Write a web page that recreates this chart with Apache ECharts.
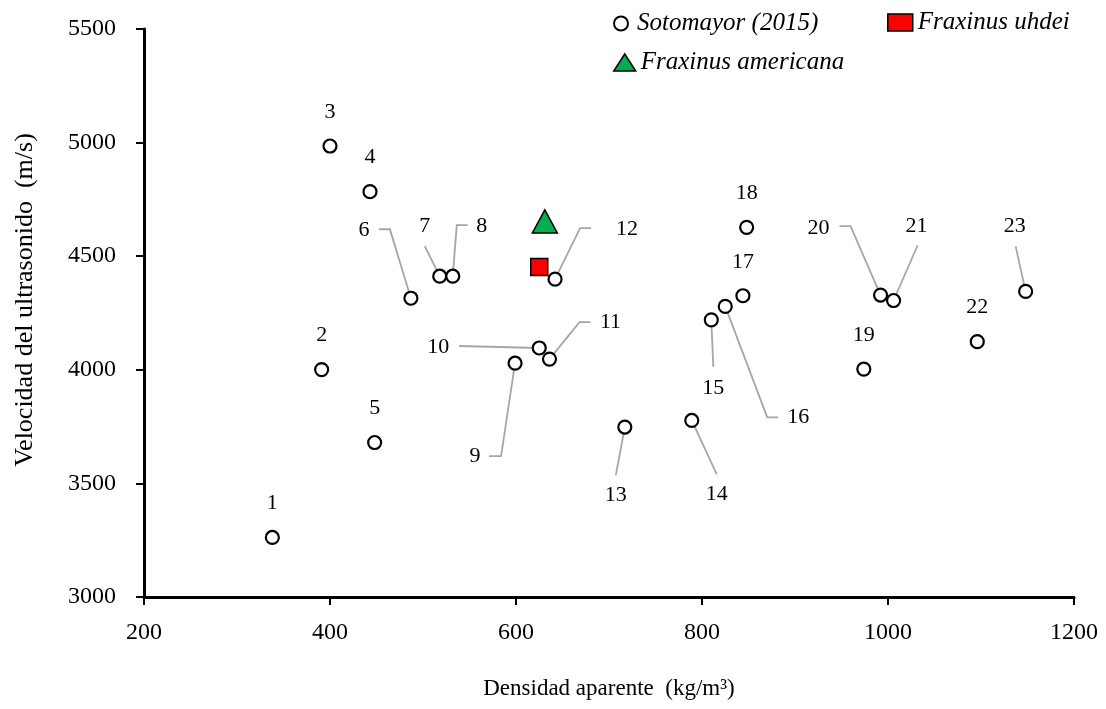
<!DOCTYPE html>
<html>
<head>
<meta charset="utf-8">
<style>
  html, body { margin: 0; padding: 0; background: #fff; }
  #chart { width: 1106px; height: 709px; }
</style>
<script src="https://cdn.jsdelivr.net/npm/echarts@6/dist/echarts.min.js"></script>
</head>
<body>
<div id="chart"></div>
<script>
// Datos
var pointLabels = ['1', '2', '3', '4', '5', '6', '7', '8', '9', '10', '11', '12',
  '13', '14', '15', '16', '17', '18', '19', '20', '21', '22', '23'];
var sotoDensity = [338, 391, 400, 443, 448, 487, 518, 532, 599, 625, 636, 642,
  717, 789, 810, 825, 844, 848, 974, 992, 1006, 1096, 1148];
var sotoVelocity = [3262, 4001, 4985, 4784, 3680, 4315, 4412, 4412, 4029, 4096, 4047, 4399,
  3748, 3777, 4220, 4279, 4326, 4627, 4003, 4329, 4305, 4124, 4345];
var uhdeiPoint = [625, 4452];
var americanaPoint = [631, 4653];

// Posición de las etiquetas (px, relativo al punto) y líneas guía
var labelPlacement = [
  { dx: 0, dy: -34 },
  { dx: 0, dy: -34 },
  { dx: 0, dy: -34 },
  { dx: 0, dy: -34 },
  { dx: 0, dy: -34 },
  { dx: -47, dy: -68, line: [[-32, -69], [-21, -69]] },
  { dx: -15, dy: -50, line: [[-15, -30]] },
  { dx: 29, dy: -50, line: [[15, -51], [4, -51]] },
  { dx: -40, dy: 93, line: [[-26, 93], [-14, 93]] },
  { dx: -101, dy: -1, line: [[-80, -2]] },
  { dx: 61, dy: -37, line: [[41, -37], [30, -37]] },
  { dx: 72, dy: -50, line: [[36, -51], [25, -51]] },
  { dx: -9, dy: 68, line: [[-9, 48]] },
  { dx: 25, dy: 74, line: [[25, 54]] },
  { dx: 2, dy: 68, line: [[2, 47]] },
  { dx: 73, dy: 111, line: [[53, 111], [42, 111]] },
  { dx: 0, dy: -34 },
  { dx: 0, dy: -34 },
  { dx: 0, dy: -34 },
  { dx: -62, dy: -67, line: [[-41, -69], [-30, -69]] },
  { dx: 23, dy: -74, line: [[24, -55]] },
  { dx: 0, dy: -34 },
  { dx: -11, dy: -65, line: [[-10, -45]] }
];

var serif = '"Liberation Serif", "DejaVu Serif", serif';
var guideColor = '#A6A6A6';

var chart = echarts.init(document.getElementById('chart'), null, { renderer: 'canvas' });

var sotoData = sotoDensity.map(function (x, i) { return [x, sotoVelocity[i]]; });
var labelData = sotoDensity.map(function (x, i) { return [x, sotoVelocity[i], i]; });

function plain(v) { return String(v); }

function legendBox(name, icon, left, top, w, h, style) {
  return {
    data: [{ name: name, icon: icon }],
    left: left,
    top: top,
    padding: 0,
    itemWidth: w,
    itemHeight: h,
    symbolKeepAspect: true,
    selectedMode: false,
    itemStyle: style,
    textStyle: { fontFamily: serif, fontStyle: 'italic', fontSize: 25, color: '#000' }
  };
}

chart.setOption({
  animation: false,
  backgroundColor: '#fff',
  grid: { left: 144, right: 32, top: 29, bottom: 112 },
  legend: [
    legendBox('Sotomayor (2015)', 'circle', 613, 11, 22, 14,
      { color: '#fff', borderColor: '#000', borderWidth: 2 }),
    legendBox('Fraxinus uhdei', 'rect', 887, 10, 25, 17,
      { color: '#FF0000', borderColor: '#000', borderWidth: 1.5 }),
    legendBox('Fraxinus americana', 'triangle', 613, 50, 22, 17,
      { color: '#00B050', borderColor: '#000', borderWidth: 1.5 })
  ],
  xAxis: {
    type: 'value',
    min: 200,
    max: 1200,
    interval: 200,
    name: 'Densidad aparente  (kg/m³)',
    nameLocation: 'middle',
    nameGap: 80,
    nameTextStyle: { fontFamily: serif, fontSize: 23, color: '#000' },
    axisLine: { show: true, onZero: false, lineStyle: { color: '#000', width: 3 } },
    axisTick: { show: true, length: 8, lineStyle: { color: '#000', width: 2 } },
    axisLabel: { fontFamily: serif, fontSize: 24, color: '#000', margin: 24, formatter: plain },
    splitLine: { show: false }
  },
  yAxis: {
    type: 'value',
    min: 3000,
    max: 5500,
    interval: 500,
    name: 'Velocidad del ultrasonido  (m/s)',
    nameLocation: 'middle',
    nameGap: 106,
    nameTextStyle: { fontFamily: serif, fontSize: 26, color: '#000', padding: [0, 0, 0, 26] },
    axisLine: { show: true, onZero: false, lineStyle: { color: '#000', width: 3 } },
    axisTick: { show: true, length: 8, lineStyle: { color: '#000', width: 2 } },
    axisLabel: { fontFamily: serif, fontSize: 24, color: '#000', margin: 28, formatter: plain },
    splitLine: { show: false }
  },
  series: [
    {
      // etiquetas numeradas y líneas guía
      type: 'custom',
      coordinateSystem: 'cartesian2d',
      encode: { x: 0, y: 1 },
      silent: true,
      z: 1,
      data: labelData,
      renderItem: function (params, api) {
        var p = api.coord([api.value(0), api.value(1)]);
        var i = api.value(2);
        var lay = labelPlacement[i];
        var children = [];
        if (lay.line) {
          var pts = lay.line.map(function (o) { return [p[0] + o[0], p[1] + o[1]]; });
          pts.push(p);
          children.push({
            type: 'polyline',
            shape: { points: pts },
            style: { stroke: guideColor, lineWidth: 1.8, fill: null }
          });
        }
        children.push({
          type: 'text',
          style: {
            text: pointLabels[i],
            x: p[0] + lay.dx,
            y: p[1] + lay.dy,
            align: 'center',
            verticalAlign: 'middle',
            fontFamily: serif,
            fontSize: 22,
            fill: '#000'
          }
        });
        return { type: 'group', children: children };
      }
    },
    {
      name: 'Sotomayor (2015)',
      type: 'scatter',
      z: 3,
      symbol: 'circle',
      symbolSize: 13,
      itemStyle: { color: '#fff', borderColor: '#000', borderWidth: 2.2, opacity: 1 },
      data: sotoData
    },
    {
      name: 'Fraxinus uhdei',
      type: 'scatter',
      z: 3,
      symbol: 'rect',
      symbolSize: 17,
      itemStyle: { color: '#FF0000', borderColor: '#000', borderWidth: 1.5, opacity: 1 },
      data: [uhdeiPoint]
    },
    {
      name: 'Fraxinus americana',
      type: 'scatter',
      z: 3,
      symbol: 'triangle',
      symbolSize: [25, 23],
      itemStyle: { color: '#00B050', borderColor: '#000', borderWidth: 1.5, opacity: 1 },
      data: [americanaPoint]
    }
  ]
});

window.addEventListener('resize', function () { chart.resize(); });
</script>
</body>
</html>
